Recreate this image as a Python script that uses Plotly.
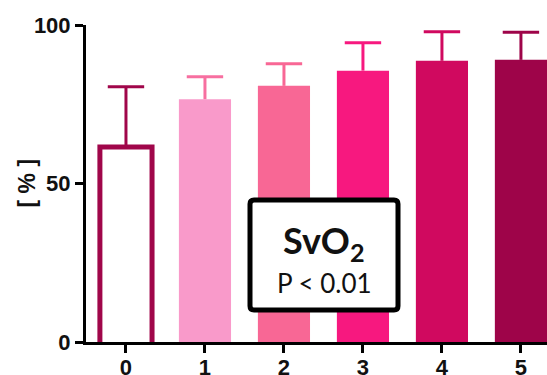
import plotly.graph_objects as go

categories = [0, 1, 2, 3, 4, 5]
means = [61.5, 76.6, 80.8, 85.6, 88.7, 89.0]
sds = [19.0, 7.1, 7.0, 8.8, 9.2, 8.7]
tick_labels = ["0", "1", "2", "3", "4", "5"]
fill_colors = ["#FFFFFF", "#F99ACA", "#F86795", "#F7187F", "#D0095F", "#9E0449"]
err_colors = ["#A0064A", "#F76FA0", "#F86795", "#F7187F", "#D0095F", "#9E0449"]
outline_color = "#A0064A"
bar_width = 0.66

W, H = 547, 375
L, R, T, B = 86, 0, 25, 33

fig = go.Figure()
for i, c in enumerate(categories):
    fig.add_trace(go.Bar(
        x=[c], y=[means[i]], width=bar_width,
        marker=dict(color=fill_colors[i], line=dict(width=0)),
        showlegend=False, hoverinfo="skip",
    ))

# open outline for the first (white) bar: no bottom edge
hw = bar_width / 2
fig.add_trace(go.Scatter(
    x=[categories[0] - hw, categories[0] - hw, categories[0] + hw, categories[0] + hw],
    y=[0, means[0], means[0], 0], mode="lines",
    line=dict(color=outline_color, width=5), showlegend=False, hoverinfo="skip",
))

# error bars (upper only, cap at top only)
for i, c in enumerate(categories):
    fig.add_trace(go.Scatter(
        x=[c, c], y=[means[i], means[i] + sds[i]], mode="lines",
        line=dict(color=err_colors[i], width=3), showlegend=False, hoverinfo="skip",
    ))
    fig.add_trace(go.Scatter(
        x=[c], y=[means[i] + sds[i]], mode="markers",
        marker=dict(symbol="line-ew", size=26, line=dict(color=err_colors[i], width=3)),
        showlegend=False, hoverinfo="skip",
    ))

tick_font = dict(family="Liberation Sans, Arial", size=22, color="#111111", weight="bold")

fig.update_layout(
    width=W, height=H,
    margin=dict(l=L, r=R, t=T, b=B, pad=0),
    paper_bgcolor="white", plot_bgcolor="white",
    barmode="overlay",
    xaxis=dict(range=[-0.506, 5.33], tickvals=categories, ticktext=tick_labels,
               showgrid=False, zeroline=False, showline=True, linecolor="black",
               linewidth=3, ticks="outside", ticklen=8, tickwidth=3, tickcolor="black",
               tickfont=tick_font, automargin=False, ticklabelstandoff=-4),
    yaxis=dict(range=[0, 100], tickvals=[0, 50, 100],
               showgrid=False, zeroline=False, showline=True, linecolor="black",
               linewidth=3, ticks="outside", ticklen=8, tickwidth=3, tickcolor="black",
               tickfont=tick_font, automargin=False),
)

pw, ph = W - L - R, H - T - B

# y-axis title
fig.add_annotation(x=(26 - L) / pw, y=0.5, xref="paper", yref="paper",
                   text="<b>[ % ]</b>", textangle=-90, showarrow=False,
                   font=dict(family="Liberation Sans, Arial", size=23, color="#111111"),
                   xanchor="center", yanchor="middle")

# annotation box
x0, x1 = (250 - L) / pw, (398 - L) / pw
y0, y1 = (342 - 310) / ph, (342 - 200) / ph
rx, ry = 4 / pw, 4 / ph
path = (f"M {x0+rx},{y0} L {x1-rx},{y0} Q {x1},{y0} {x1},{y0+ry} "
        f"L {x1},{y1-ry} Q {x1},{y1} {x1-rx},{y1} L {x0+rx},{y1} "
        f"Q {x0},{y1} {x0},{y1-ry} L {x0},{y0+ry} Q {x0},{y0} {x0+rx},{y0} Z")
fig.add_shape(type="path", path=path, xref="paper", yref="paper",
              line=dict(color="black", width=5), fillcolor="white", layer="above")

cx = ((250 + 398) / 2 - L) / pw
fig.add_annotation(x=cx, y=(342 - 242) / ph, xref="paper", yref="paper",
                   text="<b>SvO<sub>2</sub></b>", showarrow=False,
                   font=dict(family="Lato", size=36, color="#111111"),
                   xanchor="center", yanchor="middle")
fig.add_annotation(x=cx, y=(342 - 283) / ph, xref="paper", yref="paper",
                   text="P &lt; 0.01", showarrow=False,
                   font=dict(family="Lato", size=26, color="#111111"),
                   xanchor="center", yanchor="middle")

fig.write_html("out.html")
